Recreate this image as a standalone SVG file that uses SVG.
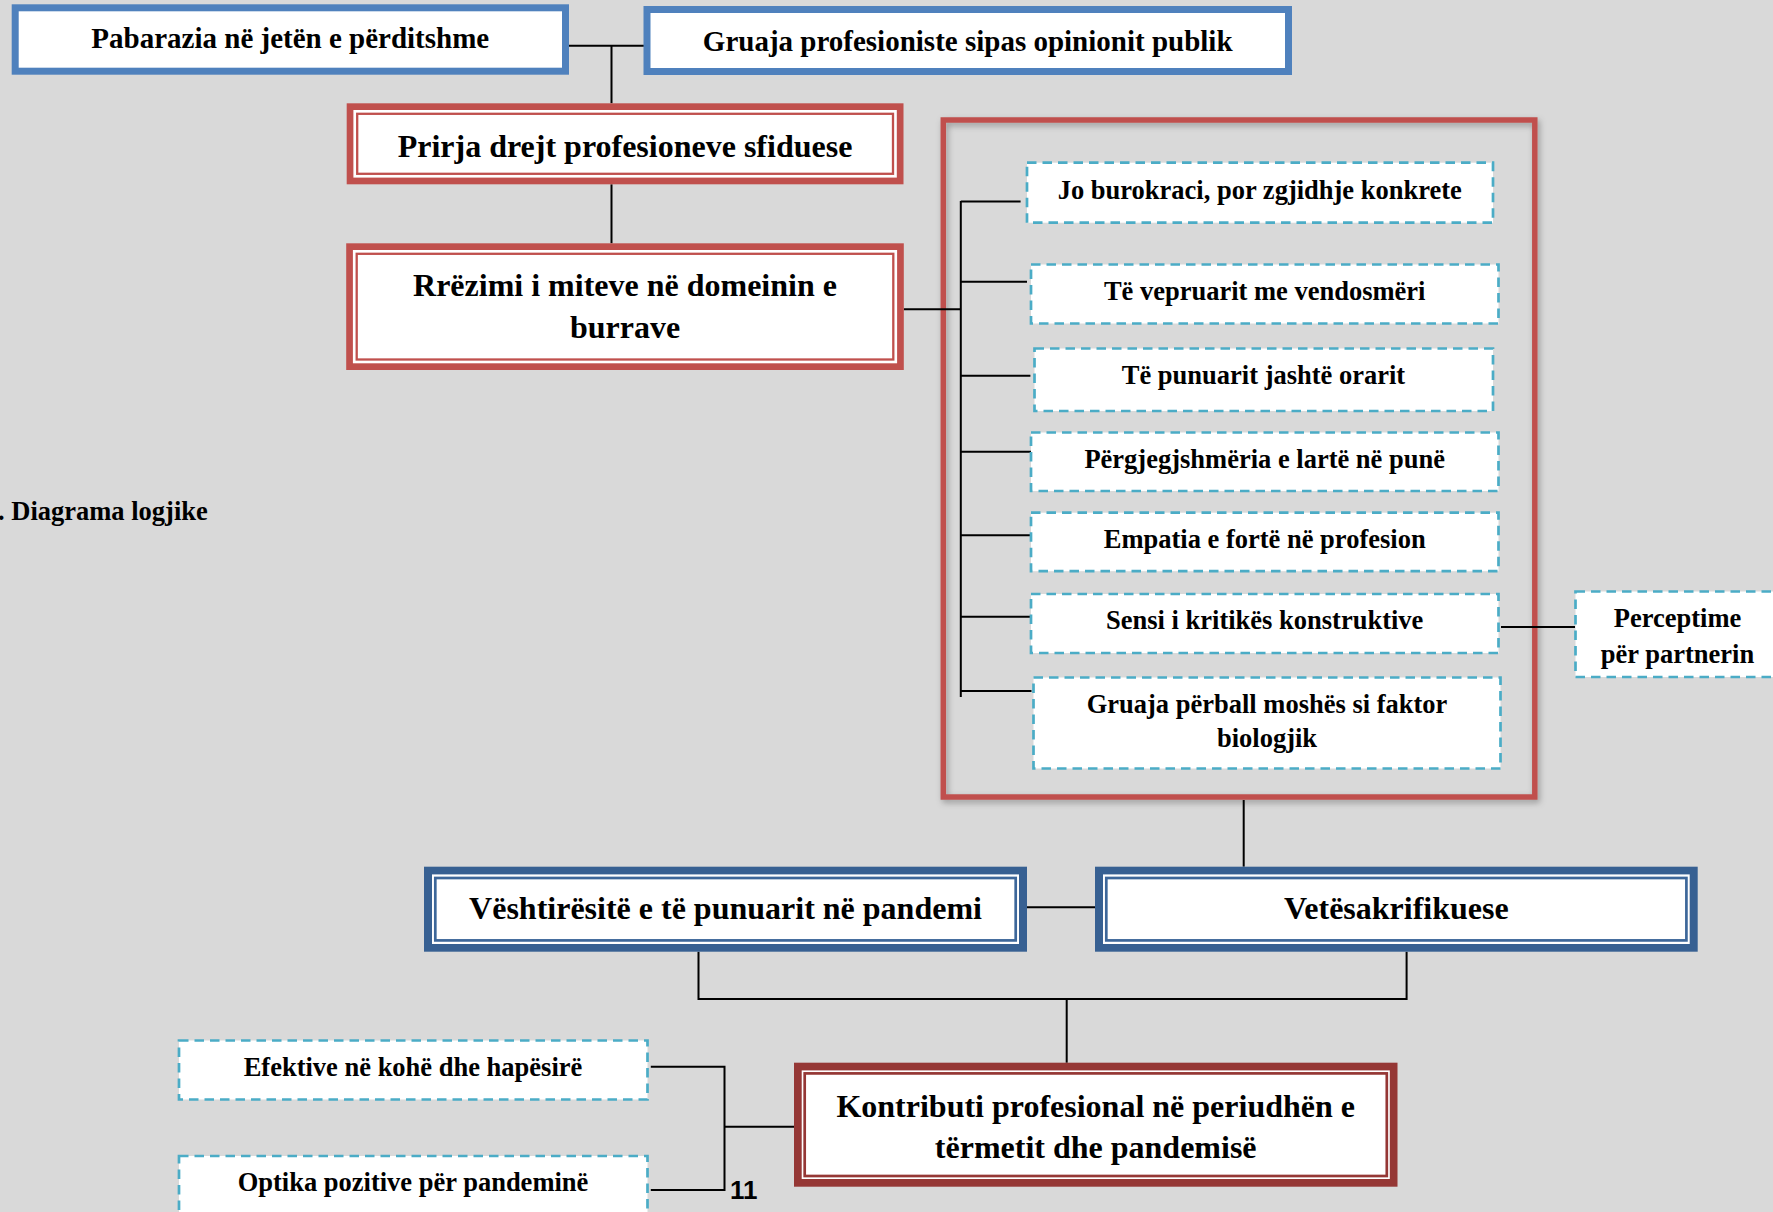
<svg xmlns="http://www.w3.org/2000/svg" width="1773" height="1212" viewBox="0 0 1773 1212">
<defs>
<style>
.bg{fill:#d9d9d9}
.t{font-family:"Liberation Serif","Times New Roman",serif;font-weight:bold;fill:#000;text-anchor:middle}
.t29{font-size:29px}
.t32{font-size:32px}
.t26{font-size:26.5px}
.plain{fill:#fff;stroke:#4f81bd;stroke-width:7}
.dash{fill:#fff;stroke:#4bacc6;stroke-width:2.7;stroke-dasharray:9.5 6}
.white{fill:#fff}
.red{fill:#c0504d}
.redl{fill:none;stroke:#c0504d;stroke-width:2.3}
.navy{fill:#376092}
.navyl{fill:none;stroke:#3d679a;stroke-width:2.7}
.dred{fill:#953735}
.dredl{fill:none;stroke:#953735;stroke-width:2.7}
.ln{fill:none;stroke:#000;stroke-width:2}
</style>
<filter id="sh" x="-5%" y="-5%" width="110%" height="110%">
<feDropShadow dx="2" dy="3" stdDeviation="3" flood-color="#000" flood-opacity="0.3"/>
</filter>
</defs>
<rect class="bg" x="0" y="0" width="1773" height="1212"/>

<text class="t t26" x="-2" y="519.5" style="text-anchor:start">. Diagrama logjike</text>

<g id="container">
<rect x="943.3" y="120" width="591.5" height="677" fill="none" stroke="#c0504d" stroke-width="5.5" filter="url(#sh)"/>
</g>

<g id="connectors">
<path class="ln" d="M569 45.7H644M611.5 45.7V103.3"/>
<path class="ln" d="M611.5 184.3V243.3"/>
<path class="ln" d="M903.8 309.3H961"/>
<path class="ln" d="M960.8 201V697"/>
<path class="ln" d="M960.8 201.5H1020.6M960.8 281.7H1027M960.8 375.7H1030.4M960.8 451.7H1031.5M960.8 535.3H1031.5M960.8 616.7H1031.5M960.8 691H1031.5"/>
<path class="ln" d="M1501 627H1575"/>
<path class="ln" d="M1243.7 800V866.7"/>
<path class="ln" d="M1027 907.3H1095" stroke-width="2.5"/>
<path class="ln" d="M698.5 951.7V999H1406.6V951.7M1066.7 999V1062.7"/>
<path class="ln" d="M650.8 1066.7H724.5V1190H650.8M724.5 1126.7H794"/>
</g>

<g id="n-pabarazia">
<rect class="plain" x="15.2" y="7.8" width="550.3" height="63.4"/>
<text class="t t29" x="290.3" y="48">Pabarazia në jetën e përditshme</text>
</g>

<g id="n-gruaja-opinion">
<rect class="plain" x="647" y="9.5" width="641.5" height="62"/>
<text class="t t29" x="967.7" y="50.5">Gruaja profesioniste sipas opinionit publik</text>
</g>

<g id="n-prirja">
<rect class="red" x="346.7" y="103.3" width="556.8" height="81"/>
<rect class="white" x="353.4" y="110" width="543.4" height="67.6"/>
<rect class="redl" x="357.2" y="113.8" width="535.8" height="60"/>
<text class="t t32" x="625" y="156.5">Prirja drejt profesioneve sfiduese</text>
</g>

<g id="n-rrezimi">
<rect class="red" x="346.2" y="243.3" width="557.6" height="126.7"/>
<rect class="white" x="352.9" y="250" width="544.2" height="113.3"/>
<rect class="redl" x="356.7" y="253.8" width="536.6" height="105.7"/>
<text class="t t32" x="625" y="296">Rrëzimi i miteve në domeinin e</text>
<text class="t t32" x="625" y="338">burrave</text>
</g>

<g id="n-burokraci">
<rect class="dash" x="1027" y="162.7" width="466" height="60"/>
<text class="t t26" x="1259.8" y="198.8">Jo burokraci, por zgjidhje konkrete</text>
</g>

<g id="n-vepruarit">
<rect class="dash" x="1031" y="264.5" width="467.5" height="59"/>
<text class="t t26" x="1264.7" y="299.8">Të vepruarit me vendosmëri</text>
</g>

<g id="n-punuarit">
<rect class="dash" x="1034.5" y="348.5" width="458.5" height="62.5"/>
<text class="t t26" x="1263.5" y="383.8">Të punuarit jashtë orarit</text>
</g>

<g id="n-pergjegjshmeria">
<rect class="dash" x="1031" y="432.5" width="467.5" height="58.5"/>
<text class="t t26" x="1264.7" y="468.2">Përgjegjshmëria e lartë në punë</text>
</g>

<g id="n-empatia">
<rect class="dash" x="1031" y="512.7" width="467.5" height="58.5"/>
<text class="t t26" x="1264.7" y="548.2">Empatia e fortë në profesion</text>
</g>

<g id="n-sensi">
<rect class="dash" x="1031" y="594" width="467.5" height="59"/>
<text class="t t26" x="1264.7" y="628.8">Sensi i kritikës konstruktive</text>
</g>

<g id="n-mosha">
<rect class="dash" x="1033.5" y="677.5" width="467" height="91"/>
<text class="t t26" x="1267" y="712.8">Gruaja përball moshës si faktor</text>
<text class="t t26" x="1267" y="747.2">biologjik</text>
</g>

<g id="n-perceptime">
<rect class="dash" x="1575.5" y="591.5" width="210" height="85.5"/>
<text class="t t26" x="1677.5" y="627.2">Perceptime</text>
<text class="t t26" x="1677.5" y="662.8">për partnerin</text>
</g>

<g id="n-veshtiresite">
<rect class="navy" x="424" y="866.7" width="603" height="85"/>
<rect class="white" x="432" y="874.4" width="587" height="69.6"/>
<rect class="navyl" x="435.3" y="878" width="580.4" height="62.4"/>
<text class="t t32" x="725.5" y="919">Vështirësitë e të punuarit në pandemi</text>
</g>

<g id="n-vetesakrifikuese">
<rect class="navy" x="1095" y="866.7" width="602.7" height="85"/>
<rect class="white" x="1103" y="874.4" width="586.7" height="69.6"/>
<rect class="navyl" x="1106.3" y="878" width="580.1" height="62.4"/>
<text class="t t32" x="1396.4" y="919">Vetësakrifikuese</text>
</g>

<g id="n-kontributi">
<rect class="dred" x="794" y="1062.7" width="603.5" height="124"/>
<rect class="white" x="801.7" y="1070.4" width="588.1" height="108.6"/>
<rect class="dredl" x="804.7" y="1073.4" width="582.1" height="102.6"/>
<text class="t t32" x="1095.7" y="1117">Kontributi profesional në periudhën e</text>
<text class="t t32" x="1095.7" y="1158">tërmetit dhe pandemisë</text>
</g>

<g id="n-efektive">
<rect class="dash" x="179" y="1040.5" width="468.5" height="59"/>
<text class="t t26" x="413" y="1075.5">Efektive në kohë dhe hapësirë</text>
</g>

<g id="n-optika">
<rect class="dash" x="179" y="1156" width="468.5" height="70"/>
<text class="t t26" x="413" y="1190.5">Optika pozitive për pandeminë</text>
</g>

<text x="730" y="1199" style="font-family:'Liberation Sans',Arial,sans-serif;font-weight:bold;font-size:26px;fill:#000">11</text>
</svg>
